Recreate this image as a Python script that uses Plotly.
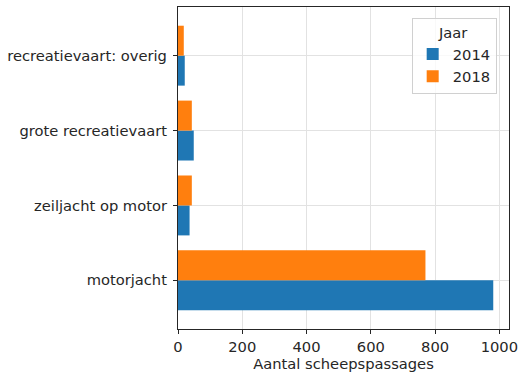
import plotly.graph_objects as go

categories = ["motorjacht", "zeiljacht op motor", "grote recreatievaart", "recreatievaart: overig"]
years = ["2014", "2018"]
values_2014 = [981, 36, 49, 21]
values_2018 = [770, 43, 43, 18]
colors = ["#1f77b4", "#ff7f0e"]
x_ticks = [0, 200, 400, 600, 800, 1000]

fig = go.Figure()
for name, vals, col in zip(years, [values_2014, values_2018], colors):
    fig.add_trace(go.Bar(y=categories, x=vals, name=name, orientation="h",
                         marker=dict(color=col, line=dict(width=0))))

font = dict(family="DejaVu Sans", size=14.7, color="#262626")
fig.update_layout(
    width=520, height=378,
    margin=dict(l=178, r=11, t=7, b=49),
    barmode="group", bargap=0.2, bargroupgap=0,
    plot_bgcolor="white", paper_bgcolor="white",
    font=font,
    legend=dict(title=dict(text="Jaar", side="top center", font=font), x=0.706, y=0.966,
                xanchor="left", yanchor="top", bgcolor="rgba(255,255,255,0.8)",
                bordercolor="#d0d0d0", borderwidth=1, traceorder="normal",
                font=font, itemwidth=30),
    xaxis=dict(range=[0, 1030], tickvals=x_ticks, showgrid=True, gridcolor="#e2e2e2",
               gridwidth=1, zeroline=False, showline=True, linecolor="#262626",
               linewidth=1.2, mirror=True, ticks="outside", ticklen=4,
               tickcolor="#262626", automargin=False,
               title=dict(text="Aantal scheepspassages", standoff=4, font=font)),
    yaxis=dict(categoryorder="array", categoryarray=categories, range=[-0.65, 3.65],
               showgrid=True, gridcolor="#e2e2e2", gridwidth=1, zeroline=False,
               showline=True, linecolor="#262626", linewidth=1.2, mirror=True,
               ticks="outside", ticklen=4, tickcolor="#262626", automargin=False,
               ticklabelstandoff=3),
)
fig.write_html("out.html", config={"displayModeBar": False},
               post_script="document.body.style.margin='0';document.body.style.overflow='hidden';")
